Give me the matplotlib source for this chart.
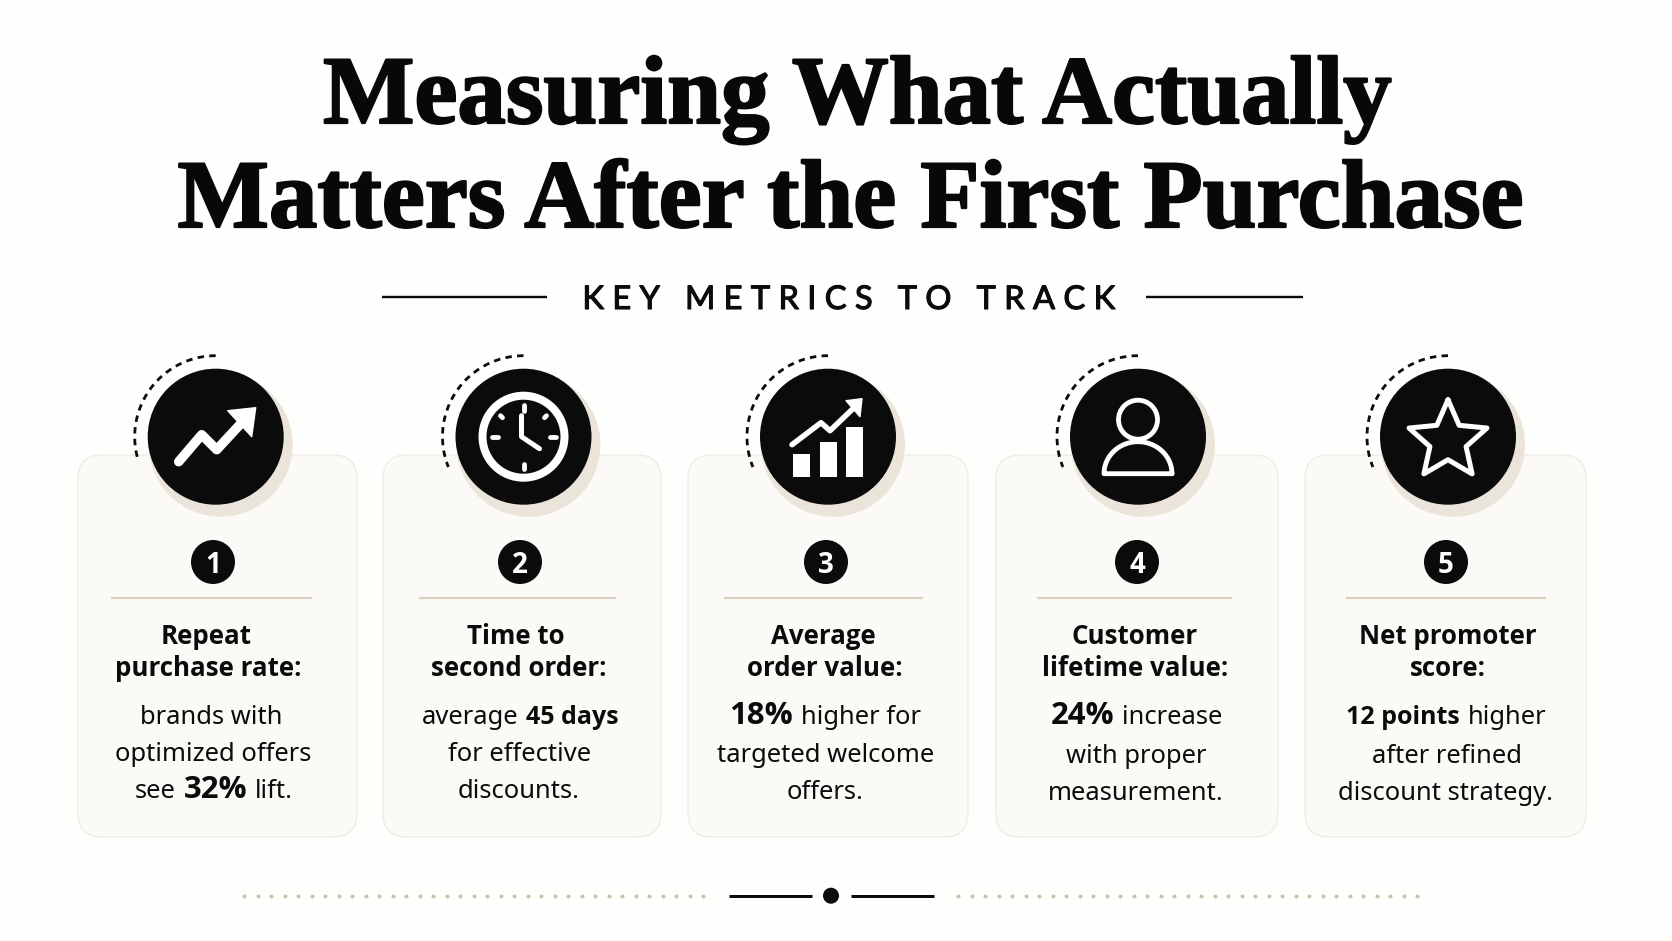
import numpy as np
import matplotlib
matplotlib.use("Agg")
import matplotlib.pyplot as plt
from matplotlib.patches import FancyBboxPatch, Circle, Polygon, Rectangle
import matplotlib.patheffects as pe

W, H = 1672, 941
SANS = "Noto Sans"
BOLD = "Open Sans"
SERIF = "Liberation Serif"
INK = "#0B0B0B"
SHADOW = "#EBE4DA"
CARD = "#FCFAF7"
CARD_EDGE = "#F0ECE5"
RULE = "#DACFBF"
DOT = "#CDC1AE"

title_lines = ["Measuring What Actually", "Matters After the First Purchase"]
subtitle = "K E Y   M E T R I C S   T O   T R A C K"
numbers = ["1", "2", "3", "4", "5"]
headings = [["Repeat", "purchase rate:"], ["Time to", "second order:"], ["Average", "order value:"],
            ["Customer", "lifetime value:"], ["Net promoter", "score:"]]
# each body line is a list of (text, style) runs: 0 regular, 1 bold, 2 large bold
bodies = [
    [[("brands with", 0)], [("optimized offers", 0)], [("see ", 0), ("32%", 2), (" lift.", 0)]],
    [[("average ", 0), ("45 days", 1)], [("for effective", 0)], [("discounts.", 0)]],
    [[("18%", 2), (" higher for", 0)], [("targeted welcome", 0)], [("offers.", 0)]],
    [[("24%", 2), (" increase", 0)], [("with proper", 0)], [("measurement.", 0)]],
    [[("12 points", 1), (" higher", 0)], [("after refined", 0)], [("discount strategy.", 0)]],
]
card_x = [(78, 357), (383, 661), (688, 968), (996, 1278), (1305, 1586)]
icon_x = [215.7, 523.5, 828, 1138, 1448]
badge_x = [213, 520, 826, 1137, 1446]
rule_x = [(111, 312), (419, 616), (724, 923), (1037, 1232), (1346, 1546)]
head_cx = [[206, 208.5], [516, 519], [823, 825], [1135, 1135], [1448, 1448]]
body_cx = [[211, 213, 214], [520, 520, 519], [825, 826, 825], [1137, 1136, 1136], [1446, 1447, 1446]]
body_y = [[713, 750, 787], [713, 750, 787], [713, 751, 788], [713, 752, 789], [713, 752, 789]]
arc_end = [196, 202, 202, 202, 202]

fig = plt.figure(figsize=(W / 100, H / 100), dpi=100, facecolor="#FEFEFD")
ax = fig.add_axes([0, 0, 1, 1])
ax.set_xlim(0, W)
ax.set_ylim(H, 0)
ax.axis("off")
rend = fig.canvas.get_renderer()
px = 0.72


def runs_centered(cx, y, runs, size):
    objs = []
    for s, b in runs:
        sz = {0: size, 1: size * 0.98, 2: size * 1.22}[b]
        t = ax.text(0, y, s.strip(), fontsize=sz, family=BOLD if b else SANS, weight="bold" if b else "normal",
                    color=INK, va="baseline", ha="left", zorder=6)
        objs.append((t, s))
    space = 0.3 * size / px
    widths = [t.get_window_extent(rend).width for t, _ in objs]
    gaps = [space if (s.endswith(" ") or objs[i + 1][1].startswith(" ")) else 0
            for i, (t, s) in enumerate(objs[:-1])]
    total = sum(widths) + sum(gaps)
    x = cx - total / 2
    for i, (t, _) in enumerate(objs):
        t.set_x(x)
        x += widths[i] + (gaps[i] if i < len(gaps) else 0)


def wline(cx, pts, lw, cy=436.7, cap="round"):
    p = np.array(pts, float)
    ax.plot(cx + p[:, 0], cy + p[:, 1], color="white", lw=lw * px, solid_capstyle=cap,
            solid_joinstyle="round", zorder=5)


def wpoly(cx, pts, cy=436.7):
    p = np.array(pts, float) + [cx, cy]
    ax.add_patch(Polygon(p, closed=True, fc="white", ec="white", lw=1, joinstyle="round", zorder=5))


def icon_trend(cx):
    wline(cx, [(-37, 25), (-14, -2), (1, 13), (26, -14)], 9.5)
    wpoly(cx, [(40, -29), (12, -26), (36, 0)])


def icon_clock(cx):
    ax.add_patch(Circle((cx, 436.7), 41, fc="none", ec="white", lw=8 * px, zorder=5))
    for p in [[(0, -32), (0, -26)], [(0, 27), (0, 32)], [(-32, 0), (-26, 0)], [(26, 0), (32, 0)],
              [(-23, -21), (-21, -19)], [(21, -19), (23, -21)]]:
        wline(cx, p, 4.8)
    wline(cx, [(-2, -21), (-2, 0), (16, 12)], 5)


def icon_bars(cx):
    for x0, x1, top in [(-35, -18, 17), (-8, 9, 5), (18, 35, -10)]:
        ax.add_patch(Rectangle((cx + x0, 436.7 + top), x1 - x0, 40 - top, fc="white", ec="none", zorder=5))
    wline(cx, [(-36, 8), (-7, -14), (2, -6), (27, -30)], 5.5)
    wpoly(cx, [(34, -38), (18, -36), (32, -20)])


def icon_person(cx):
    ax.add_patch(Circle((cx, 436.7 - 17), 19.5, fc="none", ec="white", lw=4.8 * px, zorder=5))
    t = np.radians(np.arange(0, 181, 5))
    arc = [(34 * np.cos(a), 37 - 32 * np.sin(a)) for a in t]
    wline(cx, arc + [(34, 37)], 4.8)


def icon_star(cx):
    ang = np.radians(np.arange(0, 360, 36) - 90)
    rad = np.array([41, 19] * 5)
    pts = [(r * np.cos(a), 4 + r * np.sin(a)) for r, a in zip(rad, ang)]
    wline(cx, pts + [pts[0]], 5)


icons = [icon_trend, icon_clock, icon_bars, icon_person, icon_star]

# title
for s, x, y in zip(title_lines, [857, 850], [123, 227]):
    ax.text(x, y, s, family=SERIF, weight="bold", fontsize=69.7, ha="center", va="baseline",
            color="#080808", zorder=6, path_effects=[pe.withStroke(linewidth=1.6, foreground="#080808")])

# subtitle
ax.text(849, 297, subtitle, family="Lato", fontsize=23.5, ha="center", va="center_baseline",
        color=INK, zorder=6, path_effects=[pe.withStroke(linewidth=0.8, foreground=INK)])
ax.plot([382, 547], [297, 297], color=INK, lw=2.4 * px, solid_capstyle="butt")
ax.plot([1146, 1303], [297, 297], color=INK, lw=2.4 * px, solid_capstyle="butt")

# cards
for i in range(5):
    x0, x1 = card_x[i]
    ax.add_patch(FancyBboxPatch((x0 + 24, 455 + 24), x1 - x0 - 48, 382 - 48,
                                boxstyle="round,pad=24,rounding_size=24", fc=CARD, ec=CARD_EDGE,
                                lw=1.4 * px, zorder=1))
    cx = icon_x[i]
    ax.add_patch(Circle((cx + 5, 436.7 + 8), 72, fc=SHADOW, ec="none", zorder=2))
    ax.add_patch(Circle((cx, 436.7), 68, fc=INK, ec="none", zorder=3))
    a = np.radians(np.linspace(90, arc_end[i], 80))
    ax.plot(cx + 81 * np.cos(a), 436.7 - 81 * np.sin(a), color=INK, lw=2.8 * px, zorder=3,
            linestyle=(0, (2.3, 1.9)))
    icons[i](cx)
    ax.add_patch(Circle((badge_x[i], 562), 22, fc=INK, ec="none", zorder=3))
    ax.text(badge_x[i], 562, numbers[i], family=BOLD, weight="bold", fontsize=20, color="white",
            ha="center", va="center_baseline", zorder=6)
    ax.plot(rule_x[i], [598, 598], color=RULE, lw=2.2 * px, solid_capstyle="butt", zorder=2)
    for j, s in enumerate(headings[i]):
        runs_centered(head_cx[i][j], 643.5 + j * 32, [(s, 1)], 19)
    for j, runs in enumerate(bodies[i]):
        runs_centered(body_cx[i][j], body_y[i][j] + 11, runs, 18.4)

# footer ornament
for a, b in [(244, 704), (958, 1420)]:
    xs = np.arange(a, b + 1, 13.5)
    ax.plot(xs, np.full_like(xs, 895.7), ls="none", marker="o", ms=4 * px, mfc=DOT, mec="none", zorder=2)
ax.plot([728.5, 811.5], [895.7, 895.7], color=INK, lw=3 * px, solid_capstyle="butt")
ax.plot([851, 934], [895.7, 895.7], color=INK, lw=3 * px, solid_capstyle="butt")
ax.add_patch(Circle((831, 895.7), 8, fc=INK, ec="none"))

fig.savefig("out.png", dpi=100, facecolor=fig.get_facecolor())
